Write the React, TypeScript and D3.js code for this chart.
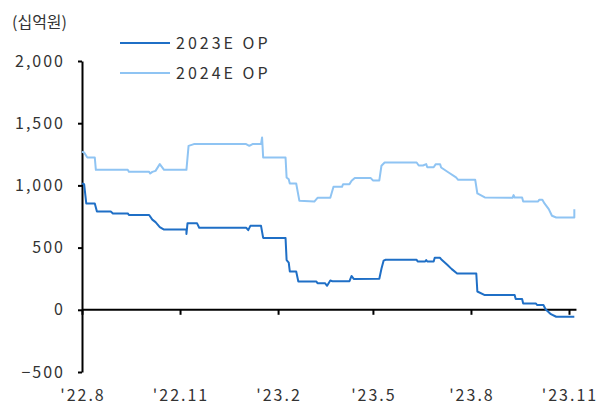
import React, { useEffect, useRef } from "react";
import * as d3 from "d3";

// Consensus operating-profit estimates (KRW bn), daily revisions
const dates2023E = [
  "2022-08-01", "2022-08-03", "2022-08-05", "2022-08-13", "2022-08-15", "2022-08-28", "2022-08-30",
  "2022-09-13", "2022-09-14", "2022-10-03", "2022-10-06", "2022-10-09", "2022-10-13", "2022-10-17",
  "2022-11-07", "2022-11-07", "2022-11-08", "2022-11-17", "2022-11-19", "2023-01-02", "2023-01-04",
  "2023-01-06", "2023-01-16", "2023-01-18", "2023-02-08", "2023-02-09", "2023-02-11", "2023-02-12",
  "2023-02-18", "2023-02-20", "2023-03-09", "2023-03-10", "2023-03-17", "2023-03-19", "2023-03-22",
  "2023-03-24", "2023-04-09", "2023-04-11", "2023-04-13", "2023-05-07", "2023-05-09", "2023-05-11",
  "2023-05-13", "2023-06-11", "2023-06-12", "2023-06-19", "2023-06-20", "2023-06-21", "2023-06-27",
  "2023-06-28", "2023-07-03", "2023-07-04", "2023-07-10", "2023-07-14", "2023-07-19", "2023-08-06",
  "2023-08-07", "2023-08-14", "2023-09-11", "2023-09-12", "2023-09-18", "2023-09-19", "2023-10-01",
  "2023-10-02", "2023-10-08", "2023-10-10", "2023-10-15", "2023-10-20", "2023-11-06",
];
const op2023E = [
  1015, 1010, 855, 855, 790, 790, 775,
  775, 762, 762, 725, 705, 665, 645,
  645, 610, 695, 695, 660, 660, 640,
  675, 675, 578, 578, 400, 380, 308,
  308, 228, 228, 214, 214, 193, 235,
  230, 230, 272, 248, 250, 330, 395,
  402, 402, 388, 388, 400, 388, 388,
  418, 418, 407, 360, 327, 292, 292,
  147, 118, 118, 86, 86, 51, 51,
  38, 38, 5, -35, -56, -56,
];

const dates2024E = [
  "2022-08-01", "2022-08-03", "2022-08-06", "2022-08-13", "2022-08-14", "2022-09-13", "2022-09-14",
  "2022-10-03", "2022-10-04", "2022-10-06", "2022-10-09", "2022-10-13", "2022-10-17", "2022-11-07",
  "2022-11-09", "2022-11-14", "2023-01-02", "2023-01-05", "2023-01-08", "2023-01-16", "2023-01-17",
  "2023-01-18", "2023-02-08", "2023-02-09", "2023-02-11", "2023-02-12", "2023-02-18", "2023-02-21",
  "2023-03-07", "2023-03-10", "2023-03-22", "2023-03-25", "2023-04-02", "2023-04-03", "2023-04-09",
  "2023-04-11", "2023-04-14", "2023-04-29", "2023-05-01", "2023-05-07", "2023-05-09", "2023-05-12",
  "2023-06-11", "2023-06-13", "2023-06-17", "2023-06-20", "2023-06-21", "2023-06-27", "2023-06-29",
  "2023-07-03", "2023-07-04", "2023-07-11", "2023-07-18", "2023-07-20", "2023-08-05", "2023-08-07",
  "2023-08-14", "2023-09-09", "2023-09-10", "2023-09-11", "2023-09-18", "2023-09-19", "2023-10-03",
  "2023-10-04", "2023-10-07", "2023-10-09", "2023-10-13", "2023-10-16", "2023-10-20", "2023-11-06",
  "2023-11-06",
];
const op2024E = [
  1270, 1265, 1224, 1224, 1125, 1125, 1109,
  1109, 1096, 1109, 1117, 1171, 1125, 1125,
  1318, 1332, 1332, 1318, 1332, 1332, 1385,
  1224, 1224, 1064, 1050, 1015, 1015, 876,
  870, 900, 900, 989, 989, 1010, 1010,
  1037, 1059, 1059, 1040, 1040, 1158, 1184,
  1184, 1160, 1160, 1171, 1146, 1146, 1171,
  1171, 1144, 1104, 1064, 1045, 1045, 935,
  903, 900, 922, 903, 903, 871, 871,
  884, 884, 855, 809, 756, 742, 742,
  809,
];

const seriesNames = ["2023E OP", "2024E OP"];
const seriesColors = ["#1f6fc6", "#8fc4f3"];

const yTicks = [-500, 0, 500, 1000, 1500, 2000];
const xTickDates = ["2022-08-01", "2022-11-01", "2023-02-01", "2023-05-01", "2023-08-01", "2023-11-01"];
const xTickLabels = ["'22.8", "'22.11", "'23.2", "'23.5", "'23.8", "'23.11"];
const unitLabel = "(십억원)";

const W = 606;
const H = 407;
const FONT = "'Noto Sans CJK KR', 'Noto Sans', sans-serif";

export default function App() {
  const ref = useRef<SVGSVGElement | null>(null);

  useEffect(() => {
    const svg = d3.select(ref.current);
    svg.selectAll("*").remove();

    const parse = d3.timeParse("%Y-%m-%d");
    const x = d3
      .scaleTime()
      .domain([parse("2022-08-01")!, parse("2023-11-01")!])
      .range([82, 569]);
    const y = d3.scaleLinear().domain([-500, 2000]).range([372, 61]);

    const txtColor = "#333";

    // unit label
    svg
      .append("text")
      .attr("x", 12)
      .attr("y", 28)
      .attr("font-size", 16)
      .attr("fill", txtColor)
      .attr("font-family", FONT)
      .text(unitLabel);

    // y axis
    const yAxis = d3
      .axisLeft(y)
      .tickValues(yTicks)
      .tickSize(4)
      .tickSizeOuter(0)
      .tickPadding(13)
      .tickFormat((d) => d3.format(",")(d as number));
    const gy = svg.append("g").attr("transform", "translate(82,0)").call(yAxis);
    gy.select(".domain").attr("stroke", "#000").attr("stroke-width", 2);
    gy.selectAll(".tick line").attr("stroke", "#000").attr("stroke-width", 2);
    gy.selectAll(".tick text")
      .attr("font-size", 16)
      .attr("font-family", FONT)
      .attr("fill", txtColor)
      .attr("letter-spacing", 2);

    // x axis along zero
    const xAxis = d3
      .axisBottom(x)
      .tickValues(xTickDates.map((d) => parse(d)!))
      .tickSize(5)
      .tickSizeOuter(0)
      .tickFormat(() => "");
    const gx = svg.append("g").attr("transform", `translate(0,${y(0)})`).call(xAxis);
    gx.select(".domain").remove();
    gx.selectAll(".tick line").attr("stroke", "#000").attr("stroke-width", 2);
    gx.append("line")
      .attr("x1", x(parse("2022-08-01")!))
      .attr("x2", x(parse("2023-11-08")!))
      .attr("stroke", "#000")
      .attr("stroke-width", 2);

    // x labels at the bottom
    svg
      .append("g")
      .selectAll("text")
      .data(xTickDates)
      .join("text")
      .attr("x", (d) => x(parse(d)!) + 1)
      .attr("y", 401)
      .attr("text-anchor", "middle")
      .attr("font-size", 16)
      .attr("font-family", FONT)
      .attr("fill", txtColor)
      .attr("letter-spacing", 2)
      .text((_, i) => xTickLabels[i]);

    // lines
    const line = d3
      .line<[Date, number]>()
      .x((d) => x(d[0]))
      .y((d) => y(d[1]));
    const series: [Date, number][][] = [
      dates2023E.map((d, i) => [parse(d)!, op2023E[i]]),
      dates2024E.map((d, i) => [parse(d)!, op2024E[i]]),
    ];
    // draw light series first so the dark one stays on top
    [1, 0].forEach((k) => {
      svg
        .append("path")
        .attr("d", line(series[k]))
        .attr("fill", "none")
        .attr("stroke", seriesColors[k])
        .attr("stroke-width", 2)
        .attr("stroke-linejoin", "round");
    });

    // legend
    const lg = svg.append("g");
    seriesNames.forEach((name, i) => {
      const cy = 43 + i * 30;
      lg.append("line")
        .attr("x1", 120)
        .attr("x2", 170)
        .attr("y1", cy)
        .attr("y2", cy)
        .attr("stroke", seriesColors[i])
        .attr("stroke-width", 2);
      lg.append("text")
        .attr("x", 176)
        .attr("y", cy + 6)
        .attr("font-size", 16)
        .attr("font-family", FONT)
        .attr("fill", txtColor)
        .attr("letter-spacing", 3)
        .text(name);
    });
  }, []);

  return (
    <svg
      ref={ref}
      width={W}
      height={H}
      style={{ position: "absolute", left: 0, top: 0, background: "#fff" }}
    />
  );
}
